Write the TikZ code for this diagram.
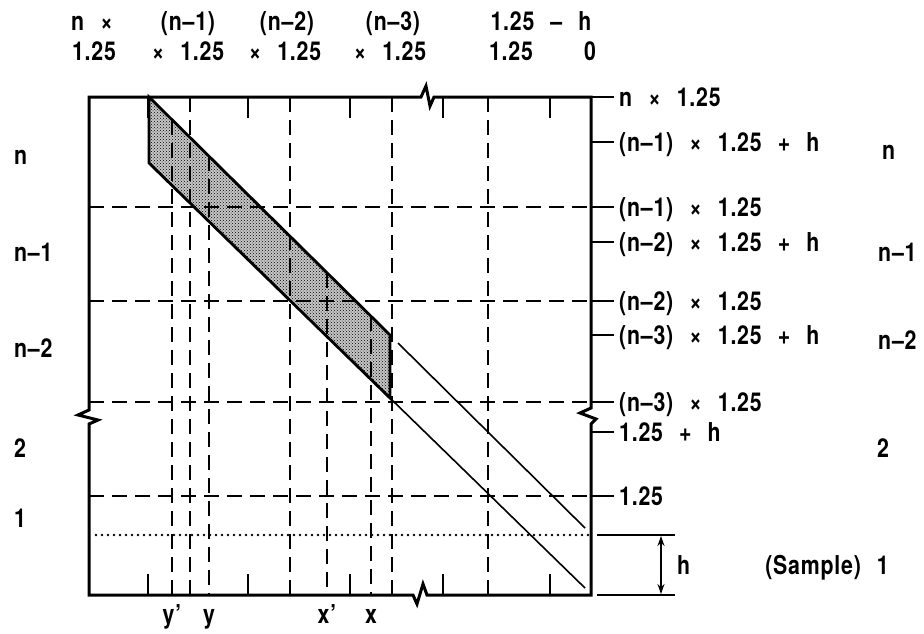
\documentclass[tikz,border=0pt]{standalone}
\usepackage{fontspec}
\setmainfont{TeX Gyre Heros}[FakeStretch=0.82,LetterSpace=3,WordSpace=2.4]
\usetikzlibrary{patterns,arrows.meta}
\begin{document}
\begin{tikzpicture}[x=1pt,y=-1pt,
  lab/.style={font=\fontsize{26}{30}\selectfont\bfseries, inner sep=0pt},
  frame/.style={line width=3pt, line join=miter},
  gridline/.style={line width=1.9pt, dash pattern=on 15pt off 8pt},
  thinline/.style={line width=1.6pt},
  tickline/.style={line width=1.8pt},
  bandedge/.style={line width=2.8pt, line join=miter}]
\useasboundingbox (0,0) rectangle (924,633);

% band (shaded parallelogram)
\coordinate (P1) at (149,97);
\coordinate (P2) at (390,335);
\coordinate (P3) at (390,398);
\coordinate (P4) at (149,163);
\fill[black!22] (P1) -- (P2) -- (P3) -- (P4) -- cycle;
\fill[pattern=crosshatch dots, pattern color=black] (P1) -- (P2) -- (P3) -- (P4) -- cycle;

% grid
\foreach \x in {190,290,392,488} \draw[gridline] (\x,97) -- (\x,595);
\foreach \x/\y in {172/120,209/156,327/273,371/316} \draw[gridline] (\x,\y) -- (\x,595);
\foreach \y in {207,301,402,496} \draw[gridline] (89,\y) -- (591,\y);
% dotted level of the sample
\foreach \x in {96,102,...,588} \fill (\x,535) circle (1.4pt);

% ticks
\foreach \x in {148,248,350,443,550} {
  \draw[tickline] (\x,97) -- (\x,118);
  \draw[tickline] (\x,595) -- (\x,574);
}
\foreach \y in {142,207,242,301,335,402,432,496} \draw[tickline] (591,\y) -- (614,\y);
\draw[tickline] (591,97) -- (614,97);

% frame with break marks
\coordinate (TL) at (89,97);
\coordinate (TR) at (591,97);
\coordinate (BR) at (591,595);
\coordinate (BL) at (89,595);
\draw[frame] (TL) -- (421,97) -- (426,86) -- (430,106) -- (434,97) -- (TR)
  -- (591,408) -- (580,413) -- (596,419) -- (591,424) -- (BR)
  -- (427,595) -- (423,584) -- (417,604) -- (413,595) -- (BL)
  -- (89,424) -- (98,420) -- (78,415) -- (89,410) -- cycle;

% band outline
\draw[bandedge] (P1) -- (P2) -- (P3) -- (P4) -- cycle;

% thin diagonals
\coordinate (U1) at (398,343);
\coordinate (U2) at (585,528);
\coordinate (L2) at (585,588);
\draw[thinline] (U1) -- (U2);
\draw[thinline] (P3) -- (L2);

% h dimension
\coordinate (H1) at (661,536);
\coordinate (H2) at (661,594);
\draw[tickline] (597,535) -- (675,535);
\draw[tickline] (597,595) -- (675,595);
\draw[line width=1.5pt, {Stealth[length=10pt,width=7pt]}-{Stealth[length=10pt,width=7pt]}] (H1) -- (H2);
\node[lab, anchor=base west] (hl) at (677,574) {h};

% top labels
\node[lab, anchor=base] (t1a) at (92,30) {n ×};
\node[lab, anchor=base] (t1b) at (94,60) {1.25};
\node[lab, anchor=base] (t2a) at (188,30) {(n–1)};
\node[lab, anchor=base] (t2b) at (188,60) {× 1.25};
\node[lab, anchor=base] (t3a) at (287,30) {(n–2)};
\node[lab, anchor=base] (t3b) at (285,60) {× 1.25};
\node[lab, anchor=base] (t4a) at (393,30) {(n–3)};
\node[lab, anchor=base] (t4b) at (390,60) {× 1.25};
\node[lab, anchor=base] (t5a) at (541,30) {1.25 – h};
\node[lab, anchor=base] (t5b) at (511,60) {1.25};
\node[lab, anchor=base] (t6b) at (590,60) {0};

% right labels
\foreach \y/\t [count=\i] in {97/n × 1.25, 142/(n–1) × 1.25 + h, 207/(n–1) × 1.25,
  242/(n–2) × 1.25 + h, 301/(n–2) × 1.25, 335/(n–3) × 1.25 + h,
  402/(n–3) × 1.25, 432/1.25 + h, 496/1.25}
  \node[lab, anchor=base west] (r\i) at (619,\y+9) {\t};

% left labels
\node[lab, anchor=base west] (ln) at (14,164) {n};
\node[lab, anchor=base west] (ln1) at (14,261) {n–1};
\node[lab, anchor=base west] (ln2) at (14,357) {n–2};
\node[lab, anchor=base west] (l2) at (14,457) {2};
\node[lab, anchor=base west] (l1) at (14,527) {1};

% far right labels
\node[lab, anchor=base west] (fn) at (882,159) {n};
\node[lab, anchor=base west] (fn1) at (878,261) {n–1};
\node[lab, anchor=base west] (fn2) at (878,349) {n–2};
\node[lab, anchor=base west] (f2) at (877,457) {2};
\node[lab, anchor=base east] (f1) at (889,574) {(Sample) 1};

% bottom labels
\node[lab, anchor=base] (by1) at (172,623) {y'};
\node[lab, anchor=base] (by) at (209,623) {y};
\node[lab, anchor=base] (bx1) at (327,623) {x'};
\node[lab, anchor=base] (bx) at (371,623) {x};
\end{tikzpicture}
\end{document}
